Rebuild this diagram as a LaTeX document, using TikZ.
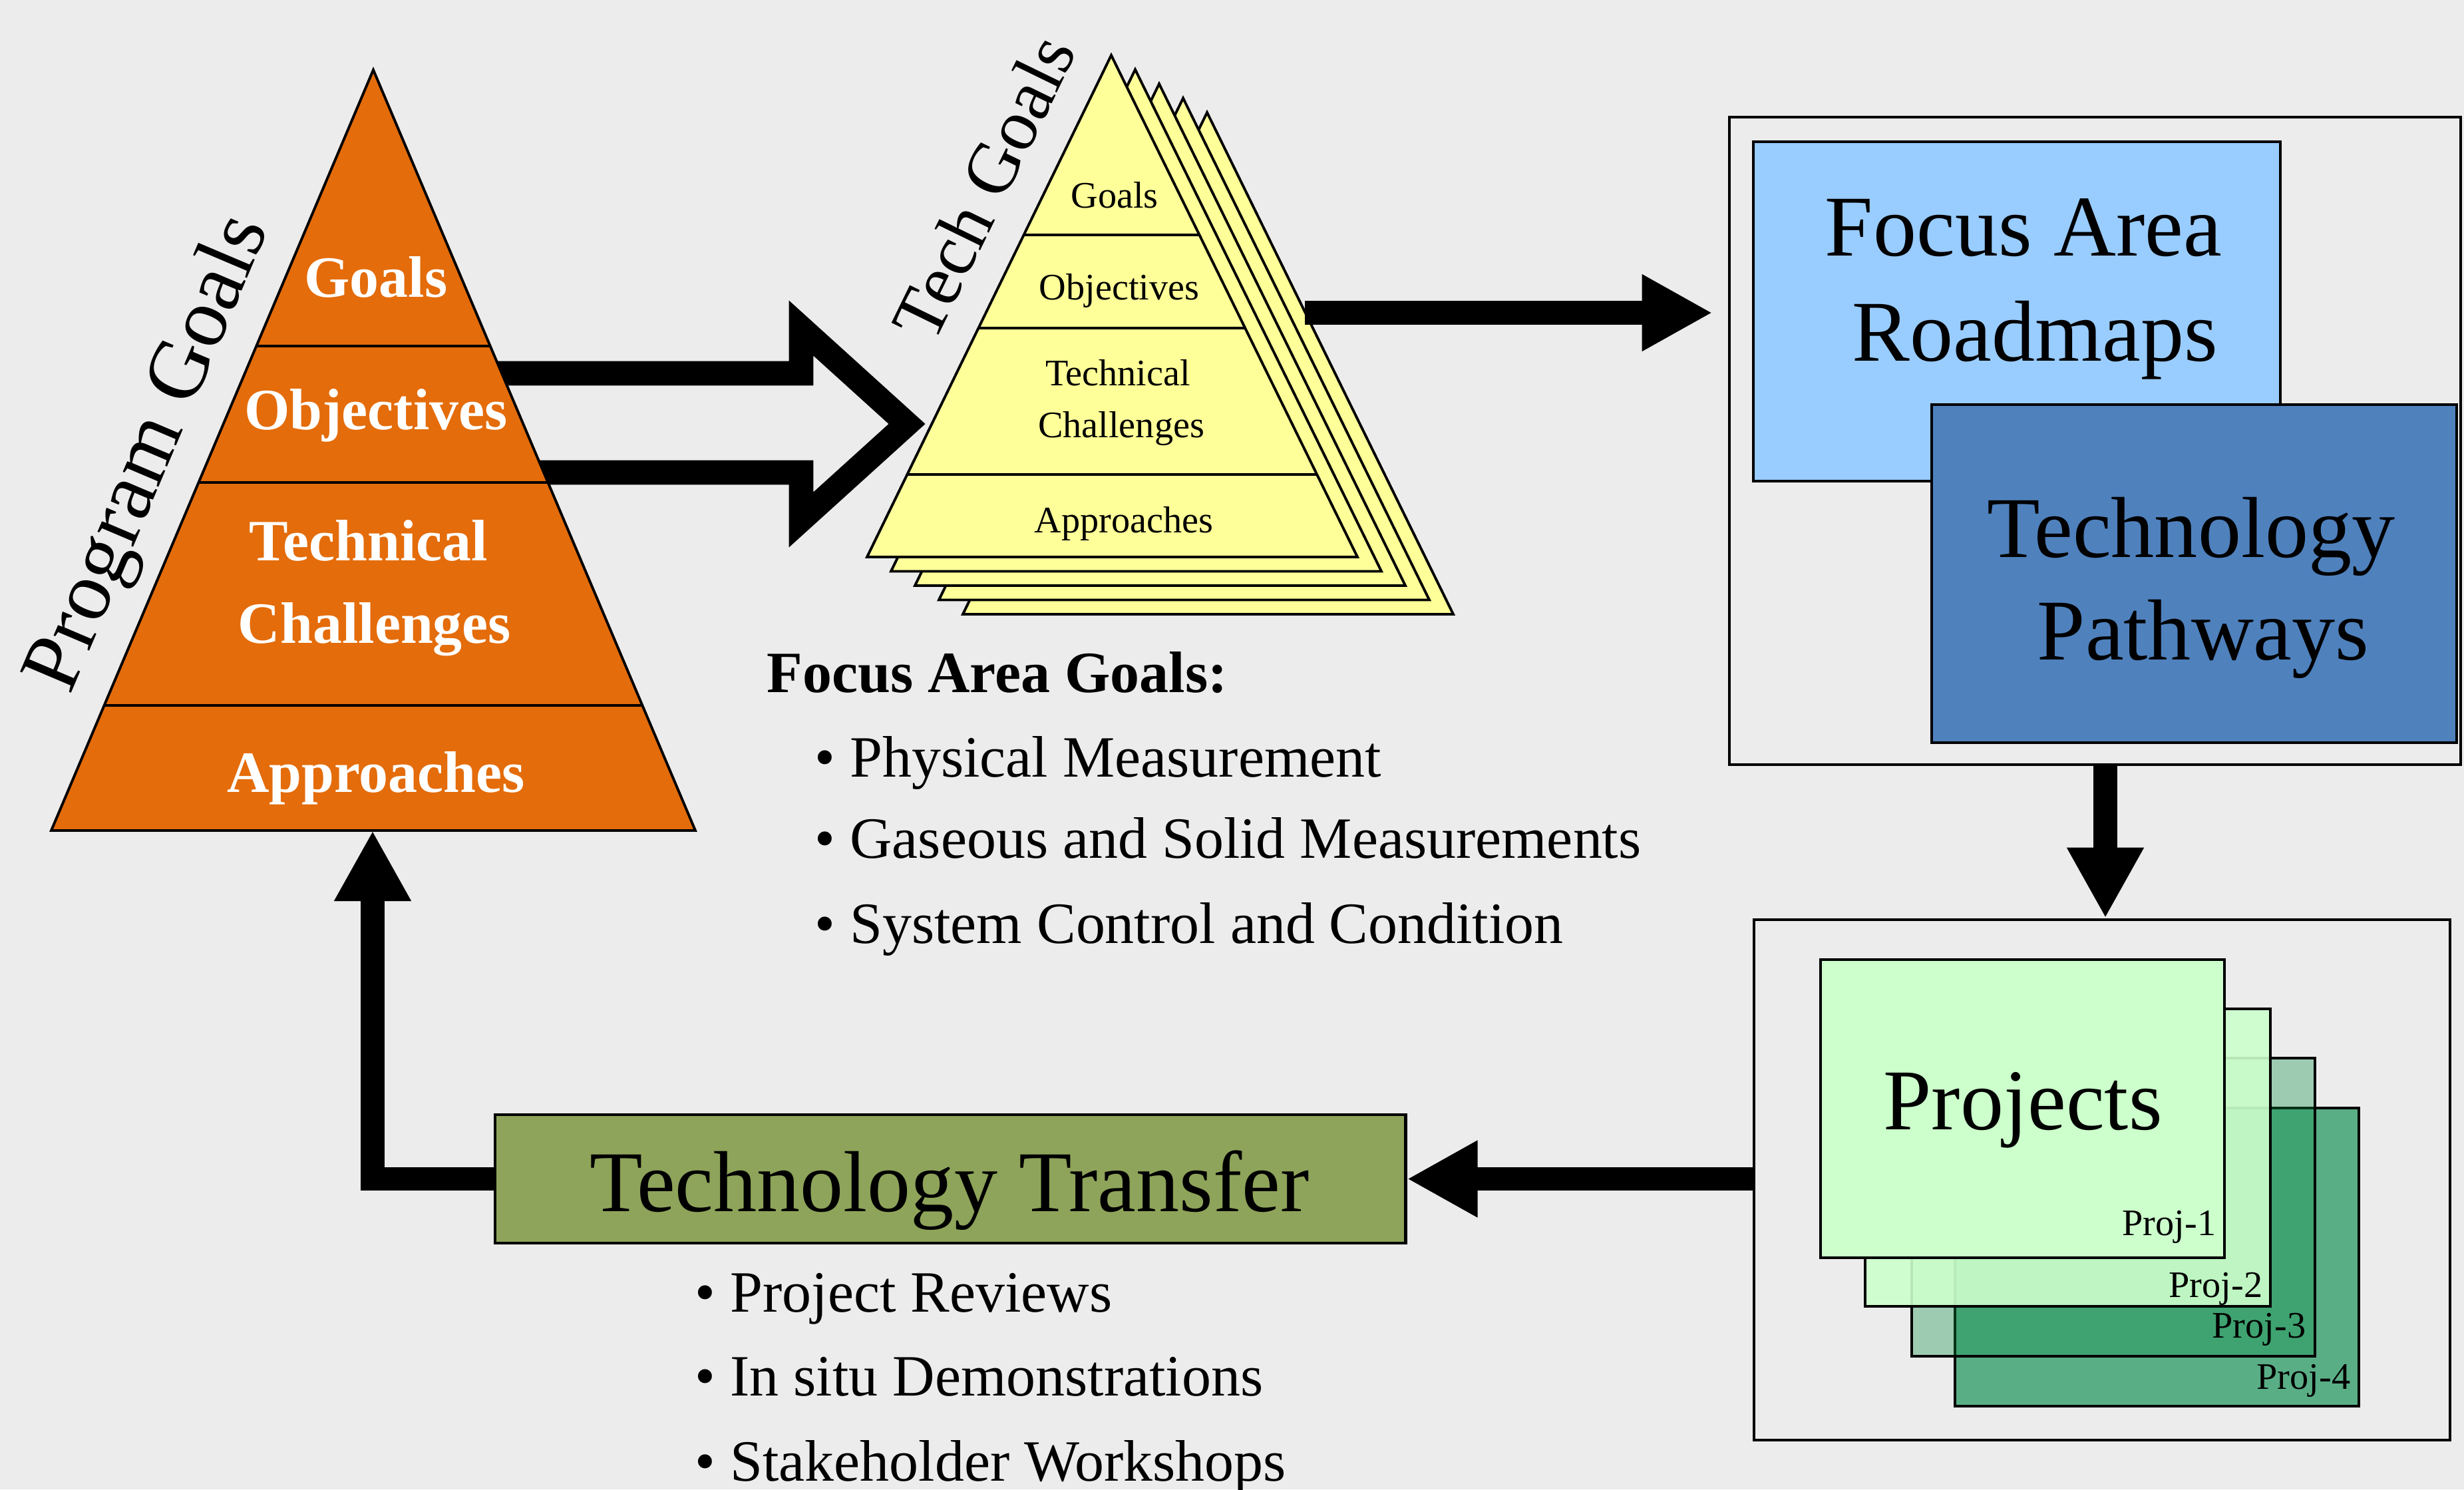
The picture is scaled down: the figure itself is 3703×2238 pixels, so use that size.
\documentclass[tikz,border=0pt]{standalone}
\usepackage{fontspec}
\setmainfont{Liberation Serif}
\usetikzlibrary{arrows.meta,calc}
\definecolor{bgc}{RGB}{236,236,236}
\definecolor{pgorange}{RGB}{228,108,10}
\definecolor{tgyellow}{RGB}{255,255,153}
\definecolor{rmblue}{RGB}{153,204,255}
\definecolor{pwblue}{RGB}{79,129,189}
\definecolor{ttolive}{RGB}{142,164,90}
\definecolor{pjone}{RGB}{204,255,204}
\definecolor{pjthree}{RGB}{11,143,71}
\definecolor{pjfour}{RGB}{90,174,134}
\begin{document}
\begin{tikzpicture}[x=0.01cm,y=-0.01cm,
  bigtxt/.style={font=\fontsize{37}{40}\selectfont, inner sep=0pt, anchor=base},
  plab/.style={font=\bfseries\fontsize{25}{28}\selectfont, text=white, inner sep=0pt, anchor=base},
  tlab/.style={font=\fontsize{16}{18}\selectfont, inner sep=0pt, anchor=base},
  projlab/.style={font=\fontsize{16}{18}\selectfont, inner sep=0pt, anchor=base east},
  blt/.style={font=\fontsize{25}{28}\selectfont, inner sep=0pt, anchor=base west},
  flow/.style={line width=10.2pt, -{Triangle[length=1.06cm,width=1.08cm]}},
  boxframe/.style={draw=black, line width=1.2pt, inner sep=0pt},
  trifill/.style={draw=black, line width=1.1pt, line join=miter},
  sepline/.style={draw=black, line width=1pt},
]
\useasboundingbox (0,0) rectangle (3703,2238);
\fill[bgc] (0,0) rectangle (3703,2238);

% hollow block arrow (program goals -> tech goals)
\draw[line width=10.5pt, line join=miter] (700,561) -- (1204,561) -- (1204,493) -- (1363,637) -- (1204,781) -- (1204,710) -- (700,710);

% Program goals pyramid
\draw[trifill, fill=pgorange] (561,105) coordinate (pgapex) -- (1045,1248) -- (77,1248) -- cycle;
\coordinate (pgbase) at (560,1248);
\draw[sepline] (385,520) -- (737,520);
\draw[sepline] (298,725) -- (824,725);
\draw[sepline] (157,1060) -- (965,1060);
\node[plab] (pgG) at (565,446) {Goals};
\node[plab] (pgO) at (565,645) {Objectives};
\node[plab] (pgT) at (554,842) {Technical};
\node[plab] (pgC) at (563,966) {Challenges};
\node[plab] (pgA) at (565,1190) {Approaches};
\node[font=\fontsize{36}{40}\selectfont, rotate=67, inner sep=0pt] (pglabel) at (227,682) {Program Goals};

% Tech goals stacked pyramids
\foreach \k in {4,3,2,1} {
  \draw[trifill, fill=tgyellow, shift={(36*\k,21.5*\k)}] (1670,83) -- (2040,837) -- (1303,837) -- cycle;
}
\draw[trifill, fill=tgyellow] (1670,83) coordinate (tgapex) -- (2040,837) -- (1303,837) -- cycle;
\draw[sepline] (1539,353) -- (1802,353);
\draw[sepline] (1470,493) -- (1871,493);
\draw[sepline] (1363,713) -- (1979,713);
\node[tlab] (tgG) at (1675,312) {Goals};
\node[tlab] (tgO) at (1682,450) {Objectives};
\node[tlab] (tgT) at (1680,579) {Technical};
\node[tlab] (tgC) at (1685,657) {Challenges};
\node[tlab] (tgA) at (1689,800) {Approaches};
\node[font=\fontsize{31}{34}\selectfont, rotate=64, inner sep=0pt] (tglabel) at (1478,281) {Tech Goals};
\coordinate (tgright) at (1961,470);

% Focus area box
\node[boxframe, minimum width=10.99cm, minimum height=9.73cm] (focusouter) at (3148.5,662.5) {};
\node[boxframe, fill=rmblue, minimum width=7.92cm, minimum height=5.10cm] (roadmap) at (3031,468) {};
\node[boxframe, fill=pwblue, minimum width=7.89cm, minimum height=5.08cm] (pathways) at (3297.5,862) {};
\node[bigtxt] (rmA) at (3041,384) {Focus Area};
\node[bigtxt] (rmB) at (3058,542) {Roadmaps};
\node[bigtxt] (pwA) at (3293,837) {Technology};
\node[bigtxt] (pwB) at (3311,991) {Pathways};

\draw[flow] (tgright) -- ([xshift=-0.23cm]focusouter.west |- tgright);

% Projects box
\node[boxframe, minimum width=10.46cm, minimum height=7.82cm] (projouter) at (3159,1773) {};
\node[boxframe, fill=pjfour, minimum width=6.07cm, minimum height=4.48cm] (proj4) at (3241.5,1889) {};
\node[boxframe, fill=pjthree, fill opacity=0.35, minimum width=6.06cm, minimum height=4.48cm] (proj3) at (3176,1814) {};
\node[boxframe, fill=pjone, fill opacity=0.9, minimum width=6.09cm, minimum height=4.47cm] (proj2) at (3107.5,1739.5) {};
\node[boxframe, fill=pjone, minimum width=6.07cm, minimum height=4.48cm] (proj1) at (3039.5,1666) {};
\node[bigtxt] (projtxt) at (3040,1697) {Projects};
\node[projlab] (pl1) at (3331,1856) {Proj-1};
\node[projlab] (pl2) at (3401,1949) {Proj-2};
\node[projlab] (pl3) at (3466,2010) {Proj-3};
\node[projlab] (pl4) at (3533,2087) {Proj-4};

\coordinate (downstart) at (3164,1149);
\draw[flow] (downstart) -- (downstart |- projouter.north);

% Technology transfer
\node[boxframe, fill=ttolive, minimum width=13.68cm, minimum height=1.93cm] (transfer) at (1428,1771.5) {};
\node[bigtxt] (tttxt) at (1427,1820) {Technology Transfer};

\draw[flow] (projouter.west |- transfer.east) -- (transfer.east);
\draw[flow, line join=miter] (transfer.west) -| (pgbase);

% bullet texts
\node[blt, font=\bfseries\fontsize{25}{28}\selectfont] (fag) at (1152,1040) {Focus Area Goals:};
\node[blt] (b1) at (1224,1167) {\textbullet\ Physical Measurement};
\node[blt] (b2) at (1224,1289) {\textbullet\ Gaseous and Solid Measurements};
\node[blt] (b3) at (1224,1417) {\textbullet\ System Control and Condition};
\node[blt] (c1) at (1044,1971) {\textbullet\ Project Reviews};
\node[blt] (c2) at (1044,2097) {\textbullet\ In situ Demonstrations};
\node[blt] (c3) at (1044,2225) {\textbullet\ Stakeholder Workshops};
\end{tikzpicture}
\end{document}
